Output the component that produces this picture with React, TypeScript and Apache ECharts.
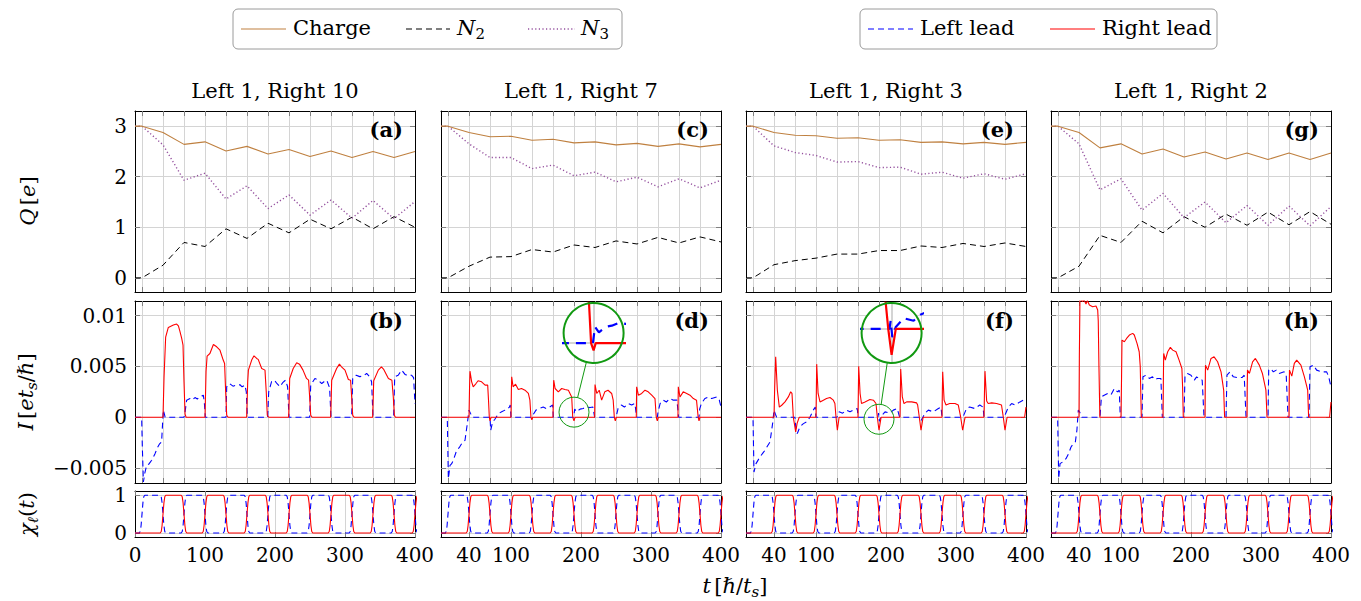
import { useEffect, useRef } from "react";
import * as echarts from "echarts";

// ---------------- data ----------------
const panelTitles = ["Left 1, Right 10", "Left 1, Right 7", "Left 1, Right 3", "Left 1, Right 2"];
const panelLetters = [["(a)", "(b)"], ["(c)", "(d)"], ["(e)", "(f)"], ["(g)", "(h)"]];

const qTimes = [0, 10, 40, 70, 100, 130, 160, 190, 220, 250, 280, 310, 340, 370, 400];
const chargeR10 = [3, 3, 2.875, 2.64, 2.69, 2.51, 2.6, 2.45, 2.54, 2.4, 2.51, 2.38, 2.5, 2.38, 2.5];
const n2R10 = [0, 0, 0.25, 0.7, 0.62, 0.97, 0.78, 1.08, 0.89, 1.16, 0.97, 1.2, 0.97, 1.21, 1.0];
const n3R10 = [3, 3, 2.63, 1.93, 2.07, 1.56, 1.82, 1.37, 1.64, 1.24, 1.54, 1.18, 1.53, 1.17, 1.51];
const chargeR7 = [3, 3, 2.875, 2.79, 2.8, 2.72, 2.74, 2.67, 2.69, 2.63, 2.66, 2.6, 2.65, 2.59, 2.64];
const n2R7 = [0, 0, 0.23, 0.41, 0.42, 0.56, 0.51, 0.65, 0.6, 0.73, 0.67, 0.8, 0.69, 0.81, 0.71];
const n3R7 = [3, 3, 2.65, 2.38, 2.38, 2.16, 2.23, 2.02, 2.09, 1.9, 1.99, 1.8, 1.96, 1.78, 1.93];
const chargeR3 = [3, 3, 2.875, 2.82, 2.81, 2.76, 2.77, 2.72, 2.73, 2.68, 2.69, 2.65, 2.68, 2.64, 2.68];
const n2R3 = [0, 0, 0.26, 0.34, 0.39, 0.47, 0.47, 0.54, 0.54, 0.63, 0.6, 0.68, 0.62, 0.69, 0.62];
const n3R3 = [3, 3, 2.61, 2.48, 2.42, 2.29, 2.3, 2.18, 2.19, 2.05, 2.09, 1.97, 2.06, 1.95, 2.06];
const chargeR2 = [3, 3, 2.875, 2.57, 2.65, 2.45, 2.55, 2.39, 2.49, 2.35, 2.47, 2.34, 2.47, 2.34, 2.47];
const n2R2 = [0, 0, 0.23, 0.84, 0.7, 1.12, 0.89, 1.21, 1.0, 1.26, 1.04, 1.3, 1.05, 1.31, 1.06];
const n3R2 = [3, 3, 2.65, 1.74, 1.96, 1.34, 1.67, 1.19, 1.5, 1.09, 1.43, 1.04, 1.42, 1.03, 1.41];

// currents, [t, I in units of 1e-3 e t_s / hbar]
const iLeftR10 = [[0,0],[9.5,0],[10.5,-3],[12,-6.38],[14,-5.5],[16.7,-4.74],[20,-4.6],[23.8,-4.24],[28.6,-3.59],[32,-3.0],[34.8,-2.66],[38,-2.43],[39.5,-0.5],[40.5,0.7],[42,0.3],[43,0],
  [70,0],[71.5,0.5],[73.8,1.68],[78.6,1.84],[82,1.7],[85.7,1.94],[89,1.8],[92.9,2.0],[97.6,2.17],[99,1.5],[100.5,0],
  [130,0],[131,3.0],[135,3.32],[140,3.06],[145,3.16],[150,3.2],[153,3.0],[157,3.16],[159,2.5],[160.5,0],
  [189.5,0],[191,2.5],[195,3.49],[199,3.65],[203,3.3],[207,3.0],[211,3.4],[215,3.65],[218,3.0],[220,0],
  [249.5,0],[251,3.16],[257,3.82],[261,3.7],[266.7,3.32],[270,3.5],[274,3.65],[278,2.9],[280,0],
  [309.5,0],[311,3.82],[316,4.14],[321,4.0],[326,4.05],[330.9,4.31],[335,4.0],[338,3.5],[340,0],
  [369.5,0],[371,3.98],[376,4.14],[381,4.64],[386,4.2],[390,4.1],[395,4.14],[398,3.9],[400,1.3]];
const iRightR10 = [[0,0],[40,0],[41.5,4],[43.8,7.9],[47.6,8.85],[54.8,9.08],[59.5,9.18],[62,9.0],[64,8.5],[66.7,7.76],[68.6,7.1],[70,3.5],[71.5,0.3],[73,0],
  [100,0],[101.5,4.5],[103,6.02],[107,6.28],[112,7.17],[116.7,6.94],[121.4,6.6],[126,5.63],[128,5.3],[129.5,2.5],[131,0.2],[133,0],
  [159.5,0],[161,3.5],[162,4.64],[166.7,5.63],[170,6.05],[173.8,5.79],[176,5.7],[181,4.8],[185.7,4.64],[187.5,2.5],[189,0.2],[191,0],
  [219.5,0],[221,3.82],[226,4.8],[231,5.36],[235,5.23],[240,4.64],[245,3.82],[248,3.65],[249.5,2],[251,0.2],[253,0],
  [279.5,0],[281,3.65],[288,4.8],[292,5.23],[295,4.97],[300,4.64],[304.8,3.72],[308,3.65],[309.5,2],[311,0.2],[313,0],
  [339.5,0],[341,3.6],[347.6,4.64],[352,4.97],[355,4.75],[362,3.82],[367,3.65],[369,2],[370.5,0.2],[372,0],[400,0]];

const iLeftR7 = [[0,0],[9,0],[10.5,-6.05],[12.9,-4.74],[15,-4.6],[17.6,-4.24],[22.4,-3.26],[26,-3.0],[29.5,-2.6],[34.3,-2.27],[37.6,-0.63],[40,0.7],[42,0.4],[44.8,0],
  [70,0],[71,-1.28],[73.8,-0.46],[77,-0.2],[82,0.36],[86.7,0.53],[91.4,0.7],[95,0.8],[97.6,1.0],[99,1.2],[100,0],
  [130,0],[132,0.3],[135.7,0.7],[140.5,0.86],[146,1.0],[150.5,0.86],[155,1.0],[159.5,1.2],[160.5,0],
  [189.5,0],[191,0.8],[193.8,0.53],[198.6,0.8],[203,0.86],[208,1.0],[213,0.95],[217,1.0],[219.5,0],
  [250,0],[253,0.86],[257.6,1.2],[262,1.0],[267.6,1.35],[272.4,1.2],[277,1.35],[279.5,0],
  [309,0],[310,0.5],[313,1.35],[317.6,1.68],[322,1.5],[327,1.84],[332,1.68],[337,1.68],[339.5,0],
  [368.6,0],[369.5,0.8],[372,1.35],[377,1.84],[382,2.0],[386.7,1.84],[394,2.0],[397.6,1.68],[400,1.0]];
const iRightR7 = [[0,0],[40,0],[40.8,3],[41.4,4.54],[43.8,3.49],[46,3.0],[50,3.32],[53,3.59],[58,3.49],[63,3.16],[66.7,3.16],[68,1.5],[69,0],[70,-0.36],[71.5,0],
  [100,0],[100.5,2.5],[101,3.98],[103,3.0],[106.5,3.26],[110.5,2.73],[115,2.83],[120,2.66],[124.8,2.34],[127,1.68],[128.5,0],[129.8,-0.25],[131,0],
  [160,0],[160.6,2.5],[161,3.65],[163,2.83],[167.6,2.5],[172.4,2.83],[177,2.73],[182,2.66],[186.7,2.0],[188.2,0],[190,-0.36],[191.5,0],
  [219.5,0],[220,3.22],[222.5,2.34],[226,2.66],[229.5,1.68],[234,2.5],[238.6,2.66],[243.8,2.34],[246,1.68],[247.6,0],[249,-0.36],[250.5,0],
  [279,0],[279.5,3.0],[282,2.17],[286.7,2.34],[291.4,2.66],[296,2.5],[301,2.17],[305.7,1.84],[307.5,0],[309,-0.36],[310.5,0],
  [338.5,0],[339,3.0],[341.4,2.0],[346,2.5],[351,2.34],[355.7,2.17],[360.5,1.84],[365,1.68],[367.4,0],[368.6,-0.36],[370,0],[400,0]];

const iLeftR3 = [[0,0],[10,0],[11.4,-5.4],[14.3,-4.57],[20,-3.91],[27,-3.26],[34.3,-2.43],[38,-0.63],[40,0.7],[42,0.3],[43.8,0],
  [70,0],[71.4,-1.28],[73.3,-1.6],[77,-0.95],[82,-0.63],[86.7,-0.46],[91.4,0],[96,0.7],[99,1.0],[100,0],
  [130,0],[133,0.53],[138,0.4],[143.8,0.7],[148.6,0.53],[153.3,0.7],[159,0.86],[160,0],
  [188.5,0],[189.3,0.4],[190.5,-0.4],[193,0.1],[196.4,0.35],[198.6,0.53],[205.7,0.4],[210.5,0.7],[216,0.86],[219.5,0],
  [249.5,0],[250.5,-0.3],[255.7,0.4],[260.5,0.7],[267.6,0.53],[274.8,0.86],[278.6,1.0],[280,0],
  [309.5,0],[310.5,0.1],[315,0.86],[319.5,1.0],[326.7,0.86],[334,1.2],[338.6,1.0],[340,0],
  [369.5,0],[370.5,0.3],[374.8,1.0],[379.5,1.35],[384,1.2],[391.4,1.51],[396,1.68],[400,1.5]];
const iRightR3 = [[0,0],[40,0],[41,3],[42.4,5.95],[44.8,2.66],[47.6,1.0],[51,1.18],[55.7,1.51],[60.5,2.0],[63.8,2.5],[65.7,2.34],[67.6,0],[71,-1.45],[73,-0.6],[76,0],
  [100,0],[100.5,2.5],[101,5.23],[103,2.34],[105.7,1.51],[110.5,1.68],[115,1.84],[120,1.94],[124.8,1.68],[127,1.35],[128.6,0],[130.5,-1.28],[133,0],
  [160,0],[160.5,2.5],[161,5.03],[163,2.34],[165,1.35],[170,1.51],[177,1.74],[182,1.68],[185.7,1.35],[187.6,0],[190,-1.28],[193,0],
  [220,0],[220.5,2.5],[221,4.74],[223.3,2.0],[225.7,1.35],[229.5,1.51],[236.7,1.51],[243.8,1.41],[245.2,1.2],[247.6,0],[250,-1.28],[253,0],
  [280,0],[280.5,2.5],[281,4.47],[283,1.68],[285.7,1.2],[291,1.35],[298.6,1.35],[303.3,1.2],[306.7,0],[309.5,-1.28],[313,0],
  [340,0],[340.7,2.5],[341.4,4.54],[343.8,1.6],[346,1.35],[351,1.41],[358,1.35],[365,1.2],[367.6,0],[370,-1.28],[373,0],
  [398,0],[400,1.0]];

const iLeftR2 = [[0,0],[9.5,0],[11,-6.05],[12.9,-4.57],[16.7,-4.41],[21.4,-4.08],[25,-3.6],[28.6,-2.93],[32,-2.6],[34.8,-2.43],[37,-1.28],[39,0.7],[41,0.5],[44,0],
  [70,0],[72,2.0],[76,2.17],[81,2.34],[85.7,2.2],[90.5,2.83],[95,2.5],[97.5,2.66],[99,0],
  [130,0],[131.4,3.98],[135.7,4.14],[140.5,3.82],[145,3.98],[148,3.7],[152,3.82],[157,3.82],[159,0],
  [190,0],[191.4,4.14],[195,4.31],[200,4.14],[204.8,3.65],[208,3.98],[211,3.82],[216,3.65],[218.6,0],
  [250,0],[251.4,4.14],[255.7,4.47],[260.5,3.98],[266,3.9],[272.9,3.91],[276,4.14],[278.6,0],
  [310,0],[311,4.64],[314,4.8],[317.6,4.47],[322,4.64],[326,4.31],[333,4.47],[336,4.2],[338.6,0],
  [368.6,0],[370,4.97],[374.8,5.13],[379.5,4.64],[386.7,4.47],[393.8,4.47],[396.7,3.98],[400,3.0]];
const iRightR2 = [[0,0],[40,0],[40.5,6],[41.4,11.8],[45,11.38],[47,11.6],[50,11.15],[52,11.5],[54.8,11.05],[59.5,10.89],[64.3,10.95],[66.7,10.56],[67.5,9.5],[68.5,5],[69.8,0],
  [100,0],[100.8,4],[101.4,7.6],[104.8,7.43],[108,7.76],[112,8.09],[116.7,8.26],[119,8.1],[122.9,7.27],[126,6.45],[127.5,5.0],[129,0],
  [160,0],[160.5,3.5],[161,6.28],[163.3,5.63],[166.7,6.45],[170.5,6.88],[173.8,6.61],[178.6,6.45],[183,5.63],[187,4.8],[188,3],[189,0],
  [220,0],[220.3,3],[220.7,5.13],[223.8,4.64],[228.6,5.79],[233,5.95],[238,5.46],[242.9,4.47],[246.7,2.66],[248,0],
  [280,0],[280.3,3],[280.7,4.64],[283.5,4.31],[288,5.46],[292,5.79],[297.6,5.13],[302,4.31],[307,2.66],[308.6,0],
  [340,0],[340.3,3],[340.7,4.64],[344,4.05],[347.6,5.3],[351,5.63],[357,5.13],[362,3.98],[366.7,2.66],[368,0],
  [398,0],[400,1.5]];

// lead coupling chi_l(t): switching times (alternately on / off) and shape of one switching edge
const chiLeftSwitch = [10, 40, 70, 100, 130, 160, 190, 220, 250, 280, 310, 340, 370, 400];
const chiRightSwitch = [40, 70, 100, 130, 160, 190, 220, 250, 280, 310, 340, 370, 400];
const chiEdge = [[-4, 0], [-2.5, 0.04], [-1.3, 0.2], [0, 0.5], [1.3, 0.8], [2.5, 0.96], [4, 1]];

// axes
const gridTimes = [10, 40, 70, 100, 130, 160, 190, 220, 250, 280, 310, 340, 370];
const qTicks = [0, 1, 2, 3];
const iTicks = [-0.005, 0, 0.005, 0.01];
const chiTicks = [0, 1];
const tTicksFirst = [0, 100, 200, 300, 400];
const tTicksOther = [40, 100, 200, 300, 400];

// magnifier ("spy") in panels (d) and (f): spot [t, I], magnified view placed at [t, I]
const spySpots = [[190, 0.0005], [190, -0.0002]];
const spyPlaces = [[218, 0.0083], [208, 0.0083]];
const spyColumns = [1, 2];

// ---------------- styling ----------------
const FONT = "DejaVu Serif";
const FS = 21;
const FS_TICK = 20;
const GRID_C = "#d4d4d4";
const TICK_C = "#808080";
const BROWN = "#bf8040";
const PURPLE = "#94509e";
const GREEN = "#119911";
const COL_LEFT = [135, 441, 746, 1051];
const PW = 280;
const ROWS = [{ top: 111, h: 181 }, { top: 301, h: 182 }, { top: 491, h: 46 }];
const SPY_R = 15;
const SPY_ZOOM = 2;

const qSets = [
  [chargeR10, n2R10, n3R10],
  [chargeR7, n2R7, n3R7],
  [chargeR3, n2R3, n3R3],
  [chargeR2, n2R2, n3R2],
];
const iSets = [
  [iLeftR10, iRightR10],
  [iLeftR7, iRightR7],
  [iLeftR3, iRightR3],
  [iLeftR2, iRightR2],
];

const pairs = (ts: number[], vs: number[]) => ts.map((t, k) => [t, vs[k]]);
const milli = (a: number[][]) => a.map(([t, v]) => [t, v / 1000]);
function buildChi(switches: number[], edge: number[][]) {
  const pts: number[][] = [[0, 0]];
  switches.forEach((s, k) => {
    const rising = k % 2 === 0;
    edge.forEach(([dt, v]) => pts.push([s + dt, rising ? v : 1 - v]));
  });
  return pts;
}
const fmtNum = (v: number) => (v === 0 ? "0" : v < 0 ? "\u2212" + String(Math.abs(v)) : String(v));

const rich = {
  r: { fontFamily: FONT, fontSize: FS, color: "#000" },
  i: { fontFamily: FONT, fontSize: FS, fontStyle: "italic", color: "#000" },
  s: { fontFamily: FONT, fontSize: 15, fontStyle: "italic", color: "#000", padding: [11, 0, 0, 0] },
  sr: { fontFamily: FONT, fontSize: 15, color: "#000", padding: [11, 0, 0, 0] },
};
const txt = (text: string, x: number, y: number, align: string, bold = false) => ({
  type: "text", x, y, z: 20,
  style: { text, fontFamily: FONT, fontSize: FS, fontWeight: bold ? "bold" : "normal", fill: "#000", align, verticalAlign: "middle" },
});

function buildOption(spy: any[] | null) {
  const grid: any[] = [];
  const xAxis: any[] = [];
  const yAxis: any[] = [];
  const series: any[] = [];
  const graphic: any[] = [];
  const axisLine = { show: true, onZero: false, lineStyle: { color: "#000", width: 1 } };
  const tick = (vals: number[]) => ({ show: true, inside: true, length: 5, customValues: vals, lineStyle: { color: TICK_C, width: 1 } });
  const lab = { fontFamily: FONT, fontSize: FS_TICK, color: "#000" };

  function panel(left: number, top: number, w: number, h: number, o: any) {
    const gi = grid.length;
    grid.push({ left, top, width: w, height: h, containLabel: false });
    const xi = xAxis.length;
    const xBase = { type: "value", gridIndex: gi, min: o.xMin, max: o.xMax, axisLine, axisTick: tick(o.xTicks) };
    xAxis.push({
      ...xBase,
      position: "bottom",
      axisLabel: o.xLabels ? { ...lab, customValues: o.xLabels, margin: 8 } : { show: false },
      splitLine: { show: true, lineStyle: { color: GRID_C, width: 1 } },
    });
    xAxis.push({ ...xBase, position: "top", axisLabel: { show: false }, splitLine: { show: false } });
    const yi = yAxis.length;
    const yBase = { type: "value", gridIndex: gi, min: o.yMin, max: o.yMax, axisLine, axisTick: tick(o.yTicks) };
    yAxis.push({
      ...yBase,
      position: "left",
      axisLabel: o.yLabels ? { ...lab, customValues: o.yTicks, formatter: fmtNum, margin: 8 } : { show: false },
      splitLine: { show: true, lineStyle: { color: GRID_C, width: 1 } },
    });
    yAxis.push({ ...yBase, position: "right", axisLabel: { show: false }, splitLine: { show: false } });
    return { xi, yi };
  }
  const line = (ax: any, data: any, color: string, width: number, dash: any, z = 2) => ({
    type: "line", xAxisIndex: ax.xi, yAxisIndex: ax.yi, data, symbol: "none", showSymbol: false,
    silent: true, z, clip: true, animation: false,
    lineStyle: { color, width, type: dash, cap: "butt" }, emphasis: { disabled: true },
  });

  const refs: any[] = [];
  COL_LEFT.forEach((left, c) => {
    const yl = c === 0;
    const q = panel(left, ROWS[0].top, PW, ROWS[0].h, { xMin: 0, xMax: 400, xTicks: gridTimes, yMin: -0.28, yMax: 3.3, yTicks: qTicks, yLabels: yl });
    const cur = panel(left, ROWS[1].top, PW, ROWS[1].h, { xMin: 0, xMax: 400, xTicks: gridTimes, yMin: -0.00648, yMax: 0.01145, yTicks: iTicks, yLabels: yl });
    const tt = c === 0 ? tTicksFirst : tTicksOther;
    const ch = panel(left, ROWS[2].top, PW, ROWS[2].h, { xMin: 0, xMax: 400, xTicks: tt, xLabels: tt, yMin: -0.106, yMax: 1.114, yTicks: chiTicks, yLabels: yl });
    refs.push({ q, cur, ch });
    const [chg, n2, n3] = qSets[c];
    series.push(line(q, pairs(qTimes, n2), "#000", 1, [6, 4]));
    series.push(line(q, pairs(qTimes, n3), PURPLE, 1.4, [1.2, 2.4]));
    series.push(line(q, pairs(qTimes, chg), BROWN, 1.1, "solid"));
    const [il, ir] = iSets[c];
    series.push(line(cur, milli(il), "#0000ff", 1.1, [6, 4]));
    series.push(line(cur, milli(ir), "#ff0000", 1.1, "solid"));
    series.push(line(ch, buildChi(chiLeftSwitch, chiEdge), "#0000ff", 1.1, [6, 4]));
    series.push(line(ch, buildChi(chiRightSwitch, chiEdge), "#ff0000", 1.1, "solid"));

    graphic.push(txt(panelTitles[c], left + PW / 2, 91, "center"));
    graphic.push(txt(panelLetters[c][0], left + PW - 12, ROWS[0].top + 18.5, "right", true));
    graphic.push(txt(panelLetters[c][1], left + PW - 12, ROWS[1].top + 19.5, "right", true));
  });

  // magnifiers
  if (spy) {
    spy.forEach((s: any, k: number) => {
      const sp = panel(s.bx - SPY_R * SPY_ZOOM, s.by - SPY_R * SPY_ZOOM, 2 * SPY_R * SPY_ZOOM, 2 * SPY_R * SPY_ZOOM, {
        xMin: s.tMin, xMax: s.tMax, xTicks: gridTimes, yMin: s.iMin, yMax: s.iMax, yTicks: iTicks, yLabels: false,
      });
      [xAxis[sp.xi], xAxis[sp.xi + 1]].forEach((a) => { a.axisLine = { show: false }; a.axisTick = { show: false, customValues: gridTimes }; a.axisLabel = { show: false }; a.z = 6; });
      [yAxis[sp.yi], yAxis[sp.yi + 1]].forEach((a) => { a.axisLine = { show: false }; a.axisTick = { show: false, customValues: iTicks }; a.axisLabel = { show: false }; a.z = 6; });
      xAxis[sp.xi].splitLine = { show: true, lineStyle: { color: GRID_C, width: 2 } };
      yAxis[sp.yi].splitLine = { show: true, lineStyle: { color: GRID_C, width: 2 } };
      const [il, ir] = iSets[spyColumns[k]];
      series.push(line(sp, milli(il), "#0000ff", 2.2, [10, 7], 7));
      series.push(line(sp, milli(ir), "#ff0000", 2.2, "solid", 7));
      graphic.push({ type: "circle", z: 5, shape: { cx: s.bx, cy: s.by, r: SPY_R * SPY_ZOOM }, style: { fill: "#fff", stroke: null } });
      graphic.push({ type: "circle", z: 10, shape: { cx: s.bx, cy: s.by, r: SPY_R * SPY_ZOOM }, style: { fill: null, stroke: GREEN, lineWidth: 2 } });
      graphic.push({ type: "circle", z: 10, shape: { cx: s.sx, cy: s.sy, r: SPY_R }, style: { fill: null, stroke: GREEN, lineWidth: 1 } });
      const dx = s.bx - s.sx, dy = s.by - s.sy, d = Math.hypot(dx, dy);
      graphic.push({ type: "line", z: 10, shape: { x1: s.sx + (dx / d) * SPY_R, y1: s.sy + (dy / d) * SPY_R, x2: s.bx - (dx / d) * SPY_R * SPY_ZOOM, y2: s.by - (dy / d) * SPY_R * SPY_ZOOM }, style: { stroke: GREEN, lineWidth: 1 } });
    });
  }

  // axis names
  graphic.push({ type: "text", x: 28, y: 201, rotation: Math.PI / 2, z: 20, style: { text: "{i|Q} {r|[}{i|e}{r|]}", rich, align: "center", verticalAlign: "middle" } });
  graphic.push({ type: "text", x: 26, y: 392, rotation: Math.PI / 2, z: 20, style: { text: "{i|I} {r|[}{i|et}{s|s}{r|/\u210F]}", rich, align: "center", verticalAlign: "middle" } });
  graphic.push({ type: "text", x: 27, y: 514, rotation: Math.PI / 2, z: 20, style: { text: "{i|\u03C7}{s|\u2113}{r|(}{i|t}{r|)}", rich, align: "center", verticalAlign: "middle" } });
  graphic.push({ type: "text", x: 735, y: 586, z: 20, style: { text: "{i|t} {r|[\u210F/}{i|t}{s|s}{r|]}", rich, align: "center", verticalAlign: "middle" } });

  // legends
  const ly = 28;
  graphic.push({ type: "rect", z: 20, shape: { x: 233, y: 9, width: 389, height: 40, r: 5 }, style: { fill: "#fff", stroke: "#9a9a9a", lineWidth: 1 } });
  graphic.push({ type: "line", z: 21, shape: { x1: 241, y1: ly + 1, x2: 286, y2: ly + 1 }, style: { stroke: BROWN, lineWidth: 1.1 } });
  graphic.push({ ...txt("Charge", 293, ly, "left"), z: 21 });
  graphic.push({ type: "line", z: 21, shape: { x1: 406, y1: ly + 1, x2: 450, y2: ly + 1 }, style: { stroke: "#000", lineWidth: 1, lineDash: [6, 4] } });
  graphic.push({ type: "text", z: 21, x: 457, y: ly, style: { text: "{i|N}{sr|2}", rich, align: "left", verticalAlign: "middle" } });
  graphic.push({ type: "line", z: 21, shape: { x1: 528, y1: ly + 1, x2: 575, y2: ly + 1 }, style: { stroke: PURPLE, lineWidth: 1.4, lineDash: [1.2, 2.4] } });
  graphic.push({ type: "text", z: 21, x: 581, y: ly, style: { text: "{i|N}{sr|3}", rich, align: "left", verticalAlign: "middle" } });

  graphic.push({ type: "rect", z: 20, shape: { x: 860, y: 9, width: 357, height: 40, r: 5 }, style: { fill: "#fff", stroke: "#9a9a9a", lineWidth: 1 } });
  graphic.push({ type: "line", z: 21, shape: { x1: 868, y1: ly + 1, x2: 913, y2: ly + 1 }, style: { stroke: "#0000ff", lineWidth: 1.1, lineDash: [6, 4] } });
  graphic.push({ ...txt("Left lead", 920, ly, "left"), z: 21 });
  graphic.push({ type: "line", z: 21, shape: { x1: 1050, y1: ly + 1, x2: 1095, y2: ly + 1 }, style: { stroke: "#ff0000", lineWidth: 1.1 } });
  graphic.push({ ...txt("Right lead", 1102, ly, "left"), z: 21 });

  return { animation: false, backgroundColor: "#fff", grid, xAxis, yAxis, series, graphic, _refs: refs };
}

export default function App() {
  const ref = useRef<HTMLDivElement>(null);
  useEffect(() => {
    if (!ref.current) return;
    const chart = echarts.init(ref.current, null, { renderer: "svg" });
    const base: any = buildOption(null);
    const refs = base._refs;
    delete base._refs;
    chart.setOption(base);
    const spy = spyColumns.map((c, k) => {
      const r = refs[c].cur;
      const finder = { xAxisIndex: r.xi, yAxisIndex: r.yi };
      const [sx, sy] = chart.convertToPixel(finder, spySpots[k]) as number[];
      const [bx, by] = chart.convertToPixel(finder, spyPlaces[k]) as number[];
      const lo = chart.convertFromPixel(finder, [sx - SPY_R, sy + SPY_R]) as number[];
      const hi = chart.convertFromPixel(finder, [sx + SPY_R, sy - SPY_R]) as number[];
      return { sx, sy, bx, by, tMin: lo[0], tMax: hi[0], iMin: lo[1], iMax: hi[1] };
    });
    const full: any = buildOption(spy);
    delete full._refs;
    chart.setOption(full, true);
    return () => chart.dispose();
  }, []);
  return <div ref={ref} style={{ position: "fixed", left: 0, top: 0, width: 1361, height: 601, background: "#fff" }} />;
}
